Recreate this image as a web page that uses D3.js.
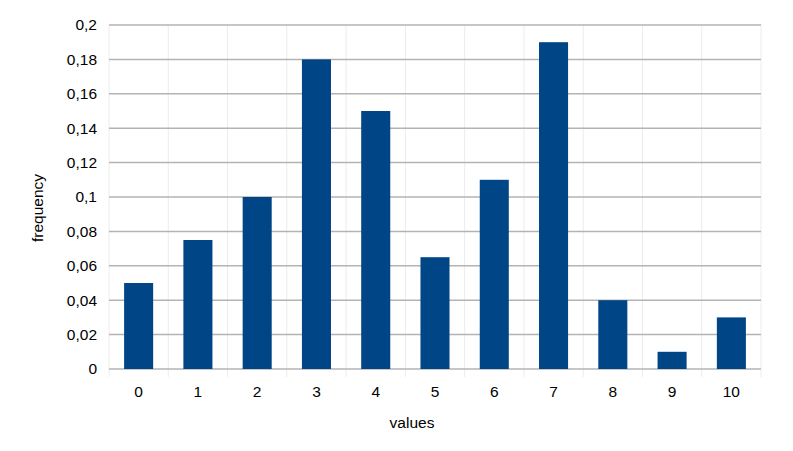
<!DOCTYPE html>
<html><head><meta charset="utf-8">
<script src="https://cdn.jsdelivr.net/npm/d3@7"></script>
<style>body{margin:0;background:#fff;}svg{display:block;font-family:"Liberation Sans",Arial,sans-serif;}</style>
</head><body><svg id="c" width="793" height="451"></svg>
<script>
const categories = ["0","1","2","3","4","5","6","7","8","9","10"];
const frequency = [0.05,0.075,0.1,0.18,0.15,0.065,0.11,0.19,0.04,0.01,0.03];
const yTicks = [0,0.02,0.04,0.06,0.08,0.1,0.12,0.14,0.16,0.18,0.2];
const yTickLabels = ["0","0,02","0,04","0,06","0,08","0,1","0,12","0,14","0,16","0,18","0,2"];
const xTitle = "values", yTitle = "frequency";

const svg = d3.select("#c");
const L=109,R=761,T=25,B=369;
const x = d3.scaleBand().domain(categories).range([L,R]).paddingInner(0).paddingOuter(0);
const y = d3.scaleLinear().domain([0,0.2]).range([B,T]);

// vertical faint grid at band boundaries
const bounds = categories.map(c=>x(c)).concat([R]);
svg.append("g").selectAll("line").data(bounds).join("line")
  .attr("x1",d=>d).attr("x2",d=>d).attr("y1",T).attr("y2",B+8)
  .attr("stroke","#ececec").attr("stroke-width",1);

// horizontal grid
svg.append("g").selectAll("line").data(yTicks).join("line")
  .attr("x1",L).attr("x2",R).attr("y1",d=>y(d)).attr("y2",d=>y(d))
  .attr("stroke","#b3b3b3").attr("stroke-width",1.5);

// bars
const bw = x.bandwidth()*0.49;
svg.append("g").selectAll("rect").data(frequency).join("rect")
  .attr("x",(d,i)=>x(categories[i])+x.bandwidth()/2-bw/2)
  .attr("width",bw)
  .attr("y",d=>y(d)).attr("height",d=>B-y(d))
  .attr("fill","#004586");

// y labels
svg.append("g").selectAll("text").data(yTicks).join("text")
  .attr("x",97).attr("y",d=>y(d)).attr("dy","0.35em")
  .attr("text-anchor","end").attr("font-size",15.5).attr("fill","#000")
  .text((d,i)=>yTickLabels[i]);

// x labels
svg.append("g").selectAll("text").data(categories).join("text")
  .attr("x",d=>x(d)+x.bandwidth()/2).attr("y",391.5).attr("dy","0.35em")
  .attr("text-anchor","middle").attr("font-size",15.5).attr("fill","#000")
  .text(d=>d);

svg.append("text").attr("x",(L+R)/2 - 23).attr("y",423).attr("dy","0.35em")
  .attr("text-anchor","middle").attr("font-size",15.5).text(xTitle);
svg.append("text").attr("transform",`translate(38,${(T+B)/2 + 11}) rotate(-90)`).attr("dy","0.35em")
  .attr("text-anchor","middle").attr("font-size",15.5).text(yTitle);
</script></body></html>
